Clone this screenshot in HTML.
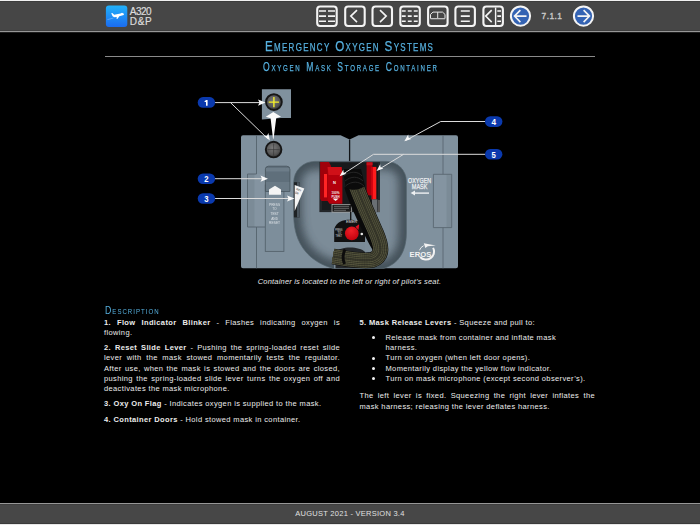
<!DOCTYPE html>
<html><head><meta charset="utf-8">
<style>
html,body{margin:0;padding:0;width:700px;height:525px;overflow:hidden;background:#000;font-family:"Liberation Sans",sans-serif;}
.abs{position:absolute;}
#hdr{position:absolute;left:0;top:0;width:700px;height:33px;background:#464646;}
.logotxt{position:absolute;left:129.8px;top:6.9px;color:#dcdcdc;font-size:10px;line-height:10.2px;-webkit-text-stroke:0.2px #dcdcdc;}
.pg{position:absolute;left:541.6px;top:10.9px;color:#c8c8c8;font-size:8.4px;letter-spacing:0.45px;-webkit-text-stroke:0.35px #c8c8c8;}
.sc{position:absolute;color:#56b0df;white-space:nowrap;transform-origin:0 0;-webkit-text-stroke:0.25px #56b0df;}
#cap{position:absolute;left:-0.5px;width:700px;top:276.8px;text-align:center;color:#e6e6e6;font-style:italic;font-size:7.5px;letter-spacing:0.19px;}
.col{position:absolute;color:#ececec;font-size:7.5px;line-height:10.25px;letter-spacing:0.37px;}
.col .l{white-space:nowrap;text-align:justify;text-align-last:justify;}
.col .e{white-space:nowrap;}
.col .gap{height:5.1px;}
.col b{font-weight:bold;}
#ftr{position:absolute;left:0;top:503px;width:700px;height:22px;background:#474747;}
#ftr .txt{position:absolute;left:0;top:6.2px;width:700px;text-align:center;color:#e0e0e0;font-size:7.5px;letter-spacing:0.26px;}
</style></head>
<body>
<div id="hdr">
<div class="abs" style="left:0;top:0;width:700px;height:1px;background:#f0f0f0"></div>
<div class="abs" style="left:0;top:1px;width:700px;height:1px;background:#3c3c3c"></div>
<div class="abs" style="left:0;top:30px;width:700px;height:1px;background:#3e3e3e"></div>
<div class="abs" style="left:0;top:31px;width:700px;height:1px;background:#969696"></div>
<div class="abs" style="left:0;top:32px;width:700px;height:1px;background:#1e1e1e"></div>
<div class="logotxt"><span style="letter-spacing:-0.55px">A320</span><br><span style="letter-spacing:0.7px">D&amp;P</span></div>
<div class="pg">7.1.1</div>
</div>
<svg class="abs" style="left:0;top:0" width="700" height="33" viewBox="0 0 700 33">
<defs><linearGradient id="lg" x1="0" y1="0" x2="0" y2="1"><stop offset="0" stop-color="#22b2fa"/><stop offset="1" stop-color="#1b6cf0"/></linearGradient></defs>
<rect x="105.9" y="5.4" width="21.4" height="21.5" rx="3" fill="url(#lg)"/>
<path d="M111.2 13.2 L112.3 13.0 L114.2 14.8 L120.5 13.6 L122 12.7 L123.9 13.8 L123.8 15.1 L119.3 16.3 L117.6 18.8 L116.6 18.9 L116.7 17.1 L114.2 17.2 L112.6 16.2 Z" fill="#fff"/><path d="M107.3 19.7 L113.5 18" stroke="#bfe3ff" stroke-width="0.5" opacity="0.7"/>
<g fill="none" stroke="#f4f4f4" stroke-width="2.1">
<rect x="317.2" y="6.5" width="19.5" height="19.5" rx="3"/>
<rect x="345.2" y="6.5" width="19.5" height="19.5" rx="3"/>
<rect x="372.5" y="6.5" width="19.5" height="19.5" rx="3"/>
<rect x="400.3" y="6.5" width="19.5" height="19.5" rx="3"/>
<rect x="428.1" y="6.5" width="19.5" height="19.5" rx="3"/>
<rect x="455.4" y="6.5" width="19.5" height="19.5" rx="3"/>
<rect x="483.4" y="6.5" width="19.5" height="19.5" rx="3"/>
</g>
<g fill="none" stroke="#f4f4f4" stroke-width="1.6">
<path d="M319 11H326M328 11H335M319 16.1H326M328 16.1H335M319 21.3H326M328 21.3H335"/>
<path d="M357 10.1L350.8 16.1L357 22.1"/>
<path d="M380 10.1L386.2 16.1L380 22.1"/>
<path d="M401.8 11H405.7M407.8 11H411.7M413.8 11H417.7M401.8 16.1H405.7M407.8 16.1H411.7M413.8 16.1H417.7M401.8 21.3H405.7M407.8 21.3H411.7M413.8 21.3H417.7"/>
<path d="M460.8 11H469.8M460.8 16.1H469.8M460.8 21.3H469.8"/>
<path d="M491.7 10.1L485.7 16.1L491.7 22.1M497.3 11H501M497.3 16.1H501M497.3 21.3H501"/>
<path d="M495.6 7.5V25" stroke-width="1.4"/>
</g>
<g fill="none" stroke="#e8e8e8" stroke-width="1">
<path d="M430.5 18.5V14.4L433 12.1H442.5L445 14.4V18.5ZM437.7 12.1V18.5"/>
</g>
<path d="M430.5 18.9H445" stroke="#aaa" stroke-width="1"/>
<circle cx="520.5" cy="16.1" r="9.6" fill="#3463b3" stroke="#f4f4f4" stroke-width="2"/>
<circle cx="583.5" cy="16.1" r="9.6" fill="#3463b3" stroke="#f4f4f4" stroke-width="2"/>
<g fill="none" stroke="#f4f4f4" stroke-width="1.6">
<path d="M514.5 16.1H526.5M520.4 10.1L514.5 16.1L520.4 22.1"/>
<path d="M589.5 16.1H577.5M583.6 10.1L589.5 16.1L583.6 22.1"/>
</g>
</svg>

<div class="sc" id="t1" style="left:265px;top:36.9px;transform:scaleX(0.76);letter-spacing:1.7px"><span style="font-size:15.3px">E</span><span style="font-size:10.5px">MERGENCY</span> <span style="font-size:15.3px">O</span><span style="font-size:10.5px">XYGEN</span> <span style="font-size:15.3px">S</span><span style="font-size:10.5px">YSTEMS</span></div>
<div class="abs" style="left:105px;top:55.5px;width:490px;height:1px;background:#8a8a8a"></div>
<div class="sc" id="t2" style="left:262.6px;top:57px;transform:scaleX(0.68);letter-spacing:2.55px"><span style="font-size:12.6px">O</span><span style="font-size:9px">XYGEN</span> <span style="font-size:12.6px">M</span><span style="font-size:9px">ASK</span> <span style="font-size:12.6px">S</span><span style="font-size:9px">TORAGE</span> <span style="font-size:12.6px">C</span><span style="font-size:9px">ONTAINER</span></div>

<svg id="ill" class="abs" style="left:0;top:80px" width="700" height="200" viewBox="0 80 700 200">
<defs>
<radialGradient id="knobg" cx="0.45" cy="0.4" r="0.6"><stop offset="0" stop-color="#7a7a7a"/><stop offset="0.7" stop-color="#555"/><stop offset="1" stop-color="#333"/></radialGradient>
<radialGradient id="redk" cx="0.45" cy="0.3" r="0.75"><stop offset="0" stop-color="#f02028"/><stop offset="1" stop-color="#c0000c"/></radialGradient>
<filter id="blur4" x="-20%" y="-20%" width="140%" height="140%"><feGaussianBlur stdDeviation="4"/></filter>
<filter id="blur1"><feGaussianBlur stdDeviation="0.6"/></filter>
<clipPath id="cavclip"><path d="M293.7 182.4 A21 21 0 0 1 314.7 161.4 H386.4 A20 20 0 0 1 406.4 181.4 V233 C406.4 252 398 264 384 268.3 H333 C310 262 293.7 245 293.7 215 Z"/></clipPath>
<clipPath id="bodyclip"><rect x="241" y="135.3" width="217" height="133" rx="2"/></clipPath>
</defs>
<!-- container body -->
<path d="M243 135.3 H340.6 L349.6 139.6 L358.5 135.3 H456 A2 2 0 0 1 458 137.3 V266.3 A2 2 0 0 1 456 268.3 H243 A2 2 0 0 1 241 266.3 V137.3 A2 2 0 0 1 243 135.3 Z" fill="#80919e"/>
<!-- left door structure -->
<rect x="247.5" y="174" width="17.8" height="53" fill="#8494a1"/>
<rect x="247.5" y="174" width="7" height="53" fill="#7b8b97"/>
<path d="M256.5 135.3 V174 H247.5 V227 H256.5 V268.3 M256.5 227 H265" fill="none" stroke="#55636d" stroke-width="0.9"/>
<!-- right door structure -->
<rect x="433.4" y="174.3" width="18.3" height="53.3" fill="#8494a1"/>
<rect x="446.5" y="174.3" width="5.2" height="53.3" fill="#7b8b97"/>
<path d="M443 135.3 V174.3 H451.7 V227.6 H443 V268.3 M443 227.6 H433.4 V174.3 H443" fill="none" stroke="#5a6872" stroke-width="0.9"/>
<!-- center split -->
<path d="M349.6 139.6 V161.8" stroke="#111417" stroke-width="1.3"/>
<!-- cavity -->
<path d="M293.7 182.4 A21 21 0 0 1 314.7 161.4 H386.4 A20 20 0 0 1 406.4 181.4 V233 C406.4 252 398 264 384 268.3 H333 C310 262 293.7 245 293.7 215 Z" fill="#7c8c98"/>
<g clip-path="url(#cavclip)">
<path d="M293.7 182.4 A21 21 0 0 1 314.7 161.4 H386.4 A20 20 0 0 1 406.4 181.4 V233 C406.4 252 398 264 384 268.3 H333 C310 262 293.7 245 293.7 215 Z" fill="none" stroke="#3a4650" stroke-width="16" filter="url(#blur4)" opacity="0.85"/>
</g>
<path d="M293.7 182.4 A21 21 0 0 1 314.7 161.4 H386.4 A20 20 0 0 1 406.4 181.4 V233 C406.4 252 398 264 384 268.3 H333 C310 262 293.7 245 293.7 215 Z" fill="none" stroke="#56646e" stroke-width="0.7"/>
<!-- reset lever slot -->
<rect x="265.3" y="185" width="18.6" height="66.4" fill="#7d8e9b" stroke="#55636d" stroke-width="0.9"/>
<!-- lever handle -->
<path d="M265.4 191.4 V169.4 A3.2 3.2 0 0 1 268.6 166.2 H286.7 A3.2 3.2 0 0 1 289.9 169.4 V191.4 Z" fill="#5f6f7b" stroke="#46535c" stroke-width="0.8"/>
<rect x="266" y="168" width="23.3" height="3.5" fill="#6d7d89"/>
<rect x="266" y="182" width="23.3" height="9" fill="#6a7a86"/>
<path d="M269 194.8 V189.5 L275 185.7 L281 189.5 V194.8 Z" fill="#f4f4f4"/>
<g fill="#e6eaee" font-family="Liberation Sans" font-size="4.4" text-anchor="middle" opacity="0.9">
<text x="274.6" y="205.8" textLength="11" lengthAdjust="spacingAndGlyphs">PRESS</text>
<text x="274.6" y="210.4" textLength="4" lengthAdjust="spacingAndGlyphs">TO</text>
<text x="274.6" y="215" textLength="8.4" lengthAdjust="spacingAndGlyphs">TEST</text>
<text x="274.6" y="219.6" textLength="6.8" lengthAdjust="spacingAndGlyphs">AND</text>
<text x="274.6" y="224.4" textLength="11" lengthAdjust="spacingAndGlyphs">RESET</text>
</g>
<!-- flag -->
<rect x="293.9" y="182.2" width="5.8" height="35.2" fill="#1e2225"/>
<rect x="297" y="182.2" width="2.7" height="35.2" fill="#4a555e"/>
<path d="M294.7 185.1 L304.3 188.5 L294.7 211.1 Z" fill="#f4f4f4"/>
<g fill="#555" font-family="Liberation Sans" font-weight="bold" font-size="3" transform="rotate(22 298 190)"><text x="296.2" y="190.6" textLength="5" lengthAdjust="spacingAndGlyphs">OXY</text><text x="296.2" y="194.2" textLength="3.6" lengthAdjust="spacingAndGlyphs">ON</text></g>
<!-- regulator dark box -->
<rect x="319.4" y="161.9" width="60.6" height="50.2" fill="#222528"/>
<rect x="322" y="163" width="56" height="47" fill="#181a1c"/>
<rect x="332" y="204.4" width="19.4" height="7.7" fill="#1c1c1c" stroke="#cfcfcf" stroke-width="0.6"/>
<g stroke="#9a9a9a" stroke-width="0.6"><path d="M334 206.3H349M334 208.3H349M334 210.3H346"/></g>
<rect x="378" y="200" width="2" height="12" fill="#555"/>
<!-- left red lever -->
<path d="M320.1 162 H329 L331 166 V200.9 H321.5 L320.1 199 Z" fill="#a0000a"/>
<rect x="324" y="174" width="3" height="23.4" fill="#ff2424"/>
<path d="M327.6 167.1 H341.5 L342.4 175 V203.7 H329.5 L327.6 201 Z" fill="#b4000c"/>
<path d="M327.6 167.1 H341.5 L342.4 175 H328.5 Z" fill="#d01018"/>
<text x="334.5" y="184" font-family="Liberation Sans" font-weight="bold" font-size="4" fill="#f4f4f4" text-anchor="middle">N</text>
<g fill="#f0f0f0" font-family="Liberation Sans" font-weight="bold" font-size="3.2" text-anchor="middle"><text x="335.6" y="194.3" textLength="8" lengthAdjust="spacingAndGlyphs">100%</text><text x="335.6" y="197.8" textLength="8" lengthAdjust="spacingAndGlyphs">PUSH</text></g>
<path d="M332.5 198.6 H338.7 L335.6 201 Z" fill="#f4f4f4"/>
<!-- right red lever -->
<rect x="366.6" y="162.3" width="5.7" height="33.1" fill="#a8000c"/>
<rect x="366.6" y="162.3" width="6" height="3" fill="#c8101a"/>
<rect x="371.7" y="166.9" width="4.6" height="32.5" fill="#ff1c1c"/>
<rect x="371.7" y="166.9" width="1.2" height="32.5" fill="#d00010"/>
<rect x="372" y="199.4" width="5.4" height="13" fill="#6a6f73"/>
<!-- emergency knob panel -->
<path d="M350.7 212 V220" stroke="#111" stroke-width="1.3"/>
<rect x="334.2" y="241" width="30.8" height="27.3" fill="#77889a" />
<rect x="334.2" y="241" width="30.8" height="27.3" fill="#7a8a96"/>
<path d="M335.5 268.3 V252 C340 246, 360 246, 365 252 V268.3 Z" fill="#25282b"/>
<path d="M334.2 242 V229 C336 222, 343 219.7, 349.6 219.7 C356 219.7, 363 222, 365 229 V242 Z" fill="#111"/>
<g fill="#e0e0e0" font-family="Liberation Sans" font-size="3.2"><text x="346" y="223.3" textLength="11" lengthAdjust="spacingAndGlyphs">EMER</text>
<text x="335.3" y="230.5" font-size="2.7" textLength="7" lengthAdjust="spacingAndGlyphs">PRESS</text><text x="337.5" y="233.6" font-size="2.7">TO</text><text x="335.6" y="236.8" font-size="2.7" textLength="6.5" lengthAdjust="spacingAndGlyphs">TEST</text></g>
<circle cx="351.8" cy="233.4" r="6.85" fill="url(#redk)"/>
<path d="M355.5 226.8 L359.2 224.3 L358.5 230 Z" fill="#e41020"/>
<circle cx="361.8" cy="234" r="1.3" fill="#e8e8e8"/>
<!-- hose -->
<path d="M346.5 187 C350 200, 358.5 218, 366.5 234 C371.5 244, 374.5 249, 376.5 252" stroke="#0a0a0a" stroke-width="4.4" fill="none"/>
<g fill="none">
<path d="M355.5 184 C359.5 196, 369 217, 376 233 C381.5 246, 383.5 256, 372.5 259.8 C362 262, 345 258.5, 333 256.5" stroke="#0b0b0b" stroke-width="15.80"/>
<path d="M355.5 184 C359.5 196, 369 217, 376 233 C381.5 246, 383.5 256, 372.5 259.8 C362 262, 345 258.5, 333 256.5" stroke="#5e5e43" stroke-width="14.60"/>
<path d="M355.5 184 C359.5 196, 369 217, 376 233 C381.5 246, 383.5 256, 372.5 259.8 C362 262, 345 258.5, 333 256.5" stroke="#37372a" stroke-width="13.40"/>
<path d="M355.5 184 C359.5 196, 369 217, 376 233 C381.5 246, 383.5 256, 372.5 259.8 C362 262, 345 258.5, 333 256.5" stroke="#5e5e43" stroke-width="11.00"/>
<path d="M355.5 184 C359.5 196, 369 217, 376 233 C381.5 246, 383.5 256, 372.5 259.8 C362 262, 345 258.5, 333 256.5" stroke="#37372a" stroke-width="9.80"/>
<path d="M355.5 184 C359.5 196, 369 217, 376 233 C381.5 246, 383.5 256, 372.5 259.8 C362 262, 345 258.5, 333 256.5" stroke="#5e5e43" stroke-width="7.40"/>
<path d="M355.5 184 C359.5 196, 369 217, 376 233 C381.5 246, 383.5 256, 372.5 259.8 C362 262, 345 258.5, 333 256.5" stroke="#37372a" stroke-width="6.20"/>
<path d="M355.5 184 C359.5 196, 369 217, 376 233 C381.5 246, 383.5 256, 372.5 259.8 C362 262, 345 258.5, 333 256.5" stroke="#5e5e43" stroke-width="3.80"/>
<path d="M355.5 184 C359.5 196, 369 217, 376 233 C381.5 246, 383.5 256, 372.5 259.8 C362 262, 345 258.5, 333 256.5" stroke="#37372a" stroke-width="2.60"/>
<path d="M355.5 184 C359.5 196, 369 217, 376 233 C381.5 246, 383.5 256, 372.5 259.8 C362 262, 345 258.5, 333 256.5" stroke="#15150c" stroke-width="14.6" stroke-dasharray="0.7 1.6" opacity="0.14"/>
</g>
<path d="M345 249.5 Q341.5 256.5 344.5 264" stroke="#0c0c0c" stroke-width="2.8" fill="none"/>
<path d="M342.6 169 H361 L365 186 C360 190, 352 191, 346 188 Z" fill="#0b0b0b"/>
<path d="M344 176 C350 171, 358 171, 362 176 M345 181 C351 176, 358 176, 363 181 M346 185.5 C352 181, 359 181, 364 186" stroke="#2c2c2c" stroke-width="0.8" fill="none"/>
<!-- blinker circle on body -->
<circle cx="273.6" cy="149.6" r="7.8" fill="url(#knobg)" stroke="#161616" stroke-width="1.9"/>
<path d="M267.5 149.6 H279.7 M273.6 143.5 V155.7" stroke="#333" stroke-width="0.6"/>
<!-- inset -->
<path d="M261.9 89.3 H291 V118 H281 L261.9 119.5 Z" fill="#80919e"/>
<circle cx="273.9" cy="102.1" r="7.9" fill="url(#knobg)" stroke="#161616" stroke-width="1.9"/>
<path d="M268.7 102.1 H279 M273.9 97 V107.3" stroke="#f4f02a" stroke-width="1.4"/>
<!-- magnifier arrow -->
<path d="M273.3 111.9 L281 116.8 L276.2 118.2 L273.6 138.8 L273 138.8 L270.6 118.2 L265.8 116.8 Z" fill="#fafafa"/>
<!-- callout lines -->
<g stroke="#dcdcdc" stroke-width="1" fill="none">
<path d="M215 102.6 H262 M230.5 102.6 L268 139"/>
<path d="M215 178.7 H265"/>
<path d="M215 198.5 H291"/>
<path d="M485 121.5 H440.7 L406 140.3"/>
<path d="M485 154.3 H373.5 L342 174.8 M403.6 154.3 L378.5 169.6"/>
</g>
<g fill="#fafafa">
<path d="M265.5 102.6 L258 99.5 L259.5 102.6 L258 105.7 Z"/>
<path d="M269.8 140.6 L263.8 135.7 L266.9 135.9 L268.4 133 Z"/>
<path d="M268 178.7 L260.5 175.6 L262 178.7 L260.5 181.8 Z"/>
<path d="M294.5 198.5 L287 195.4 L288.5 198.5 L287 201.6 Z"/>
<path d="M404.3 141.3 L408.2 134.6 L408.5 137.6 L411.4 138.9 Z"/>
<path d="M339.6 176.2 L343.3 169.4 L343.6 172.4 L346.5 173.8 Z"/>
<path d="M376.5 171 L380.2 164.2 L380.5 167.2 L383.4 168.6 Z"/>
</g>
<!-- labels -->
<g fill="#0a39ad">
<rect x="197.7" y="97.1" width="17.4" height="10.6" rx="5.3"/>
<rect x="197.7" y="173.4" width="17.4" height="10.6" rx="5.3"/>
<rect x="197.7" y="193.2" width="17.4" height="10.6" rx="5.3"/>
<rect x="485" y="116.3" width="17.4" height="10.6" rx="5.3"/>
<rect x="485" y="149" width="17.4" height="10.6" rx="5.3"/>
</g>
<g fill="#fff" font-family="Liberation Sans" font-weight="bold" font-size="8.2" text-anchor="middle">
<text x="206.4" y="182.1" textLength="4.3" lengthAdjust="spacingAndGlyphs">2</text>
<text x="206.4" y="201.9" textLength="4.3" lengthAdjust="spacingAndGlyphs">3</text>
<text x="493.7" y="124.9" textLength="4.6" lengthAdjust="spacingAndGlyphs">4</text>
<text x="493.7" y="157.6" textLength="4.3" lengthAdjust="spacingAndGlyphs">5</text>
</g>
<path d="M206 100.1 H207.6 V105.8 H206 V102 H204.6 V101 C205.4 101 205.9 100.6 206 100.1 Z" fill="#fff"/>
<!-- OXYGEN MASK -->
<g fill="#eef0f2" stroke="#eef0f2" stroke-width="0.25" font-family="Liberation Sans" font-size="7.4" text-anchor="middle">
<text x="419.6" y="183" textLength="23" lengthAdjust="spacingAndGlyphs">OXYGEN</text>
<text x="419.6" y="189.2" textLength="15.6" lengthAdjust="spacingAndGlyphs">MASK</text>
</g>
<path d="M413 193.1 H429" stroke="#eef0f2" stroke-width="1.4"/>
<path d="M410.6 193.1 L415 190.6 V195.6 Z" fill="#eef0f2"/>
<!-- EROS logo -->
<path d="M419.5 250.3 A8 8 0 0 1 423.6 245.7" fill="none" stroke="#f2f2f2" stroke-width="0.9"/>
<path d="M433.1 247.9 A8 8 0 0 1 420.1 257.0" fill="none" stroke="#f2f2f2" stroke-width="2"/>
<path d="M423.8 243.3 L435.8 245.5 L427.8 246.3 L425.3 248 Z" fill="#f2f2f2"/>
<text x="409.6" y="256.8" font-family="Liberation Sans" font-weight="bold" font-size="6.4" fill="#f2f2f2" textLength="21.7" lengthAdjust="spacingAndGlyphs">EROS</text>
</svg>

<div id="cap">Container is located to the left or right of pilot’s seat.</div>

<div class="sc" id="t3" style="left:104.6px;top:300.4px;transform:scaleX(0.78);letter-spacing:1.3px;-webkit-text-stroke:0"><span style="font-size:11.2px">D</span><span style="font-size:7.8px">ESCRIPTION</span></div>

<div class="col" style="left:104px;top:317.5px;width:236px">
<div class="l"><b>1. Flow Indicator Blinker</b> - Flashes indicating oxygen is</div>
<div class="e">flowing.</div>
<div class="gap"></div>
<div class="l"><b>2. Reset Slide Lever</b> - Pushing the spring-loaded reset slide</div>
<div class="l">lever with the mask stowed momentarily tests the regulator.</div>
<div class="l">After use, when the mask is stowed and the doors are closed,</div>
<div class="l">pushing the spring-loaded slide lever turns the oxygen off and</div>
<div class="e">deactivates the mask microphone.</div>
<div class="gap"></div>
<div class="e"><b>3. Oxy On Flag</b> - Indicates oxygen is supplied to the mask.</div>
<div class="gap"></div>
<div class="e"><b>4. Container Doors</b> - Hold stowed mask in container.</div>
</div>

<div class="col" style="left:359.5px;top:317.5px;width:235.5px">
<div class="e"><b>5. Mask Release Levers</b> - Squeeze and pull to:</div>
<div class="gap"></div>
<div style="position:relative;padding-left:26px">
<div class="abs" style="left:12px;top:3.2px;width:3px;height:3px;border-radius:50%;background:#f2f2f2"></div>
<div class="e">Release mask from container and inflate mask</div>
<div class="e">harness.</div>
<div class="abs" style="left:12px;top:23.7px;width:3px;height:3px;border-radius:50%;background:#f2f2f2"></div>
<div class="e">Turn on oxygen (when left door opens).</div>
<div class="abs" style="left:12px;top:33.9px;width:3px;height:3px;border-radius:50%;background:#f2f2f2"></div>
<div class="e">Momentarily display the yellow flow indicator.</div>
<div class="abs" style="left:12px;top:44.2px;width:3px;height:3px;border-radius:50%;background:#f2f2f2"></div>
<div class="e">Turn on mask microphone (except second observer’s).</div>
</div>
<div style="height:7.2px"></div>
<div class="l">The left lever is fixed. Squeezing the right lever inflates the</div>
<div class="e">mask harness; releasing the lever deflates harness.</div>
</div>

<div id="ftr">
<div class="abs" style="left:0;top:0;width:700px;height:1px;background:#979797"></div>
<div class="abs" style="left:0;top:1px;width:700px;height:1px;background:#3e3e3e"></div>
<div class="abs" style="left:0;top:20px;width:700px;height:1px;background:#3a3a3a"></div>
<div class="abs" style="left:0;top:21px;width:700px;height:1px;background:#e8e8e8"></div>
<div class="txt">AUGUST 2021 - VERSION 3.4</div>
</div>
</body></html>
